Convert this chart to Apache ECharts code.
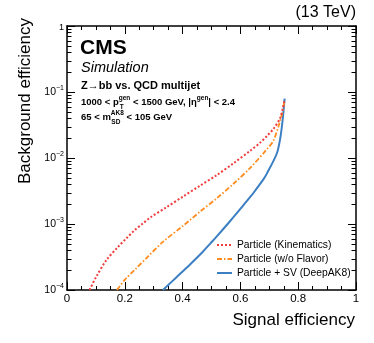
<!DOCTYPE html>
<html>
<head>
<meta charset="utf-8">
<script src="https://cdn.jsdelivr.net/npm/echarts@6/dist/echarts.min.js"></script>
<style>
  html, body { margin: 0; padding: 0; background: #fff; }
  #chart { width: 374px; height: 343px; }
</style>
</head>
<body>
<div id="chart"></div>
<script>
// ROC curves, signal vs background efficiency
var seriesNames = ['Particle (Kinematics)', 'Particle (w/o Flavor)', 'Particle + SV (DeepAK8)'];

var kinSig = [0.078, 0.101, 0.136, 0.176, 0.205, 0.235, 0.263, 0.289, 0.343, 0.403, 0.46, 0.518, 0.576, 0.634, 0.668, 0.691, 0.714, 0.737, 0.747, 0.752];
var kinBkg = [1.0e-4, 1.58e-4, 2.82e-4, 4.47e-4, 6.03e-4, 8.13e-4, 1.02e-3, 1.26e-3, 1.78e-3, 2.63e-3, 3.80e-3, 5.50e-3, 8.32e-3, 1.29e-2, 1.70e-2, 2.14e-2, 2.75e-2, 3.98e-2, 5.75e-2, 7.24e-2];

var noFlavSig = [0.173, 0.199, 0.24, 0.274, 0.332, 0.401, 0.426, 0.461, 0.518, 0.576, 0.634, 0.691, 0.714, 0.731, 0.743, 0.749, 0.752];
var noFlavBkg = [1.0e-4, 1.41e-4, 2.14e-4, 3.02e-4, 5.37e-4, 9.33e-4, 1.15e-3, 1.55e-3, 2.45e-3, 4.07e-3, 7.08e-3, 1.35e-2, 1.82e-2, 2.95e-2, 4.47e-2, 6.03e-2, 7.08e-2];

var svSig = [0.332, 0.378, 0.424, 0.47, 0.495, 0.516, 0.564, 0.61, 0.634, 0.645, 0.68, 0.691, 0.726, 0.738, 0.745, 0.75, 0.753];
var svBkg = [1.0e-4, 1.55e-4, 2.40e-4, 3.80e-4, 5.01e-4, 6.31e-4, 1.10e-3, 1.91e-3, 2.57e-3, 2.95e-3, 4.79e-3, 5.75e-3, 1.17e-2, 2.00e-2, 3.39e-2, 5.62e-2, 7.94e-2];

var seriesColors = ['#f03c3c', '#ff8c1e', '#3c7fc3'];

var xTicks = [0, 0.2, 0.4, 0.6, 0.8, 1];
var yTicks = [1e-4, 1e-3, 1e-2, 1e-1, 1];
var yMinorTicks = [];
for (var d = 0; d < yTicks.length - 1; d++) {
  for (var k = 2; k <= 9; k++) yMinorTicks.push(+(yTicks[d] * k).toPrecision(3));
}

var FONT = '"Liberation Sans", Arial, Helvetica, sans-serif';

function pairs(xs, ys) {
  return xs.map(function (x, i) { return [x, ys[i]]; });
}

function textWidth(str, font) {
  var ctx = document.createElement('canvas').getContext('2d');
  ctx.font = font;
  return ctx.measureText(str).width;
}

var chart = echarts.init(document.getElementById('chart'), null, { renderer: 'canvas' });

var axisLine = { show: true, onZero: false, lineStyle: { color: '#000', width: 1.5 } };

function xAxisDef(pos, labels) {
  return {
    type: 'value', position: pos, min: 0, max: 1, interval: 0.2,
    axisLine: axisLine,
    axisTick: { show: true, inside: true, length: 8, lineStyle: { color: '#000', width: 1 } },
    minorTick: { show: true, splitNumber: 4, length: 4, lineStyle: { color: '#000', width: 1 } },
    splitLine: { show: false },
    axisLabel: {
      show: labels, color: '#000', fontFamily: FONT, fontSize: 11.5, margin: 3,
      formatter: function (v) { return String(+v.toFixed(1)); }
    }
  };
}

function yAxisDef(pos, labels) {
  return {
    type: 'log', logBase: 10, position: pos, min: 1e-4, max: 1,
    axisLine: axisLine,
    axisTick: { show: true, inside: true, length: 8, lineStyle: { color: '#000', width: 1 } },
    splitLine: { show: false },
    axisLabel: {
      show: labels, color: '#000', fontFamily: FONT, fontSize: 10, margin: 3,
      formatter: function (v) {
        if (Math.abs(v - 1) < 1e-9) return '{one|1}';
        var e = Math.round(Math.log10(v));
        return '{b|10}{s|\u2212' + (-e) + '}';
      },
      rich: {
        one: { fontSize: 9, fontFamily: FONT, color: '#000', padding: [3, 0, 0, 0] },
        b: { fontSize: 10.5, fontFamily: FONT, color: '#000', lineHeight: 14, verticalAlign: 'middle' },
        s: { fontSize: 7, fontFamily: FONT, color: '#000', lineHeight: 8, verticalAlign: 'top' }
      }
    }
  };
}

// minor log ticks on both y frames, positioned through the axes
var minorTicks = {
  type: 'custom', silent: true, clip: false, z: 10,
  data: yMinorTicks.map(function (v) { return [0.5, v]; }),
  encode: { x: 0, y: 1 },
  renderItem: function (params, api) {
    var yv = api.value(1);
    var left = api.coord([0, yv]);
    var right = api.coord([1, yv]);
    var y = Math.round(left[1]) + 0.5;
    var st = { stroke: '#000', lineWidth: 1 };
    return {
      type: 'group',
      children: [
        { type: 'line', shape: { x1: left[0], y1: y, x2: left[0] + 4.5, y2: y }, style: st },
        { type: 'line', shape: { x1: right[0], y1: y, x2: right[0] - 4.5, y2: y }, style: st }
      ]
    };
  }
};

var lineFont = 'bold 9.5px ' + FONT;
var ptOffset = textWidth('1000 < p', lineFont);
var mOffset = textWidth('65 < m', lineFont);

var richInfo = {
  m: { fontSize: 9.5, fontWeight: 'bold', fontFamily: FONT, fill: '#000', lineHeight: 14, verticalAlign: 'middle' },
  sup: { fontSize: 6.5, fontWeight: 'bold', fontFamily: FONT, fill: '#000', lineHeight: 8, verticalAlign: 'top' }
};

var option = {
  animation: false,
  backgroundColor: '#fff',
  grid: { left: 67, right: 18, top: 26, bottom: 53, containLabel: false },
  xAxis: [xAxisDef('bottom', true), xAxisDef('top', false)],
  yAxis: [yAxisDef('left', true), yAxisDef('right', false)],
  legend: {
    orient: 'vertical', left: 216, top: 239, padding: 0,
    itemWidth: 15, itemHeight: 10, itemGap: 2,
    data: seriesNames,
    itemStyle: { opacity: 0 },
    textStyle: { color: '#000', fontFamily: FONT, fontSize: 10.3, lineHeight: 12 }
  },
  series: [
    {
      name: seriesNames[0], type: 'line', symbol: 'none', smooth: 0.3,
      data: pairs(kinSig, kinBkg), z: 3,
      lineStyle: { color: seriesColors[0], width: 2, type: [2, 2] },
      itemStyle: { color: seriesColors[0] }
    },
    {
      name: seriesNames[1], type: 'line', symbol: 'none', smooth: 0.3,
      data: pairs(noFlavSig, noFlavBkg), z: 2,
      lineStyle: { color: seriesColors[1], width: 1.8, type: [5, 2, 1.5, 2] },
      itemStyle: { color: seriesColors[1] }
    },
    {
      name: seriesNames[2], type: 'line', symbol: 'none', smooth: 0.3,
      data: pairs(svSig, svBkg), z: 1,
      lineStyle: { color: seriesColors[2], width: 2, type: 'solid' },
      itemStyle: { color: seriesColors[2] }
    },
    minorTicks
  ],
  graphic: [
    { type: 'text', x: 356, y: 13, style: { text: '(13 TeV)', font: '16px ' + FONT, fill: '#000', textAlign: 'right', textVerticalAlign: 'middle' } },
    { type: 'text', x: 355, y: 320, style: { text: 'Signal efficiency', font: '17px ' + FONT, fill: '#000', textAlign: 'right', textVerticalAlign: 'middle' } },
    { type: 'text', x: 25, y: 18, rotation: Math.PI / 2, style: { text: 'Background efficiency', font: '17px ' + FONT, fill: '#000', textAlign: 'right', textVerticalAlign: 'middle' } },
    { type: 'text', x: 80, y: 48, style: { text: 'CMS', font: 'bold 21px ' + FONT, fill: '#000', textAlign: 'left', textVerticalAlign: 'middle' } },
    { type: 'text', x: 81, y: 68, style: { text: 'Simulation', font: 'italic 14.5px ' + FONT, fill: '#000', textAlign: 'left', textVerticalAlign: 'middle' } },
    { type: 'text', x: 81, y: 86, style: { text: 'Z\u2192bb vs. QCD multijet', font: 'bold 11px ' + FONT, fill: '#000', textAlign: 'left', textVerticalAlign: 'middle' } },
    {
      type: 'text', x: 81, y: 102,
      style: {
        text: '{m|1000 < p}{sup|gen}{m| < 1500 GeV, |\u03b7}{sup|gen}{m|| < 2.4}',
        rich: richInfo, textAlign: 'left', textVerticalAlign: 'middle', fill: '#000'
      }
    },
    { type: 'text', x: 81 + ptOffset + 1, y: 107, style: { text: 'T', font: 'bold 6.5px ' + FONT, fill: '#000', textAlign: 'left', textVerticalAlign: 'middle' } },
    {
      type: 'text', x: 81, y: 117,
      style: {
        text: '{m|65 < m}{sup|AK8}{m| < 105 GeV}',
        rich: richInfo, textAlign: 'left', textVerticalAlign: 'middle', fill: '#000'
      }
    },
    { type: 'text', x: 81 + mOffset + 0.5, y: 122, style: { text: 'SD', font: 'bold 6.5px ' + FONT, fill: '#000', textAlign: 'left', textVerticalAlign: 'middle' } }
  ]
};

chart.setOption(option);
</script>
</body>
</html>
